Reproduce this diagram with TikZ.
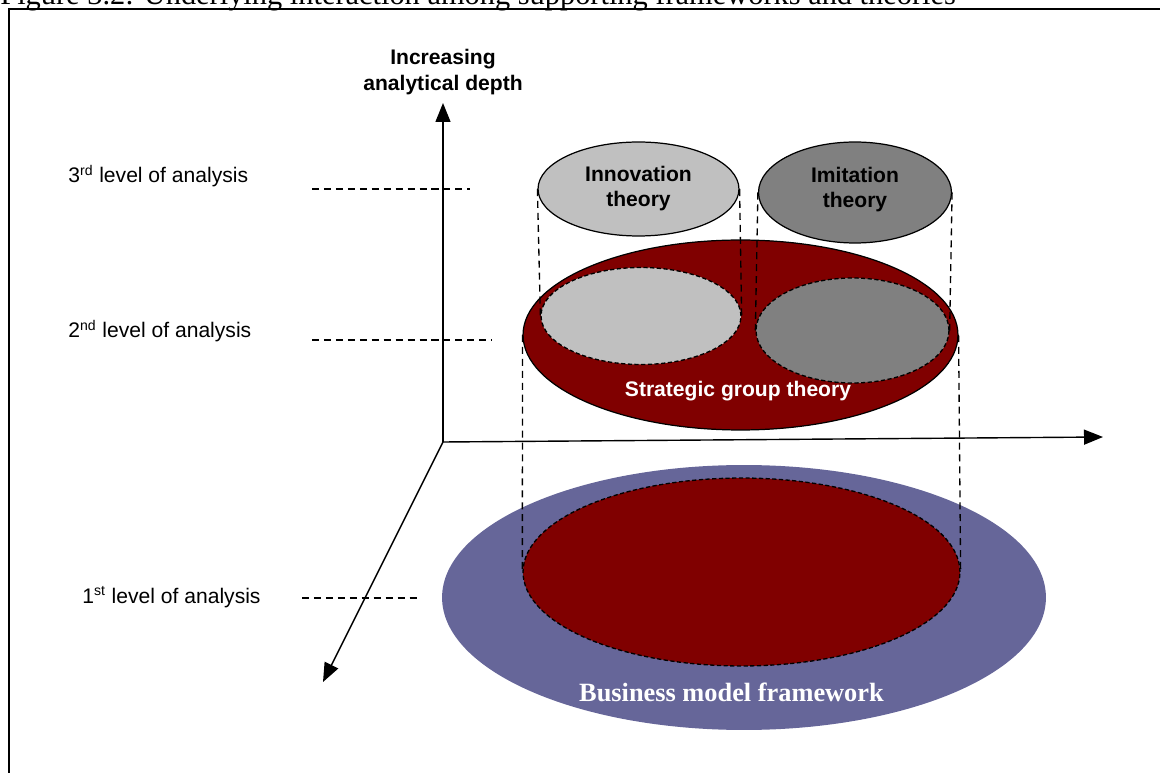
\documentclass[tikz,border=0pt]{standalone}
\usepackage{fontspec}
\setmainfont{Liberation Serif}
\setsansfont{Liberation Sans}
\usetikzlibrary{shapes.geometric,arrows.meta}

\definecolor{innovgray}{HTML}{C0C0C0}
\definecolor{imitgray}{HTML}{808080}
\definecolor{sgtred}{HTML}{800000}
\definecolor{bmfblue}{HTML}{666699}

\begin{document}
\begin{tikzpicture}[x=0.02cm,y=-0.02cm,
    axis/.style={line width=0.8pt,-{Triangle[length=0.38cm,width=0.3cm]}},
    lvltext/.style={anchor=base west,inner sep=0pt,font=\sffamily\fontsize{12}{14}\selectfont},
    lvlline/.style={line width=0.75pt,dash pattern=on 4pt off 2.8pt},
    drop/.style={line width=0.75pt,dash pattern=on 4pt off 2.8pt},
    theory/.style={ellipse,draw,line width=0.7pt,inner sep=0pt},
    thname/.style={align=center,inner sep=0pt,font=\sffamily\bfseries\fontsize{12}{14}\selectfont},
    inring/.style={ellipse,draw,inner sep=0pt,line width=0.75pt,dash pattern=on 2.4pt off 1.4pt}]
        \useasboundingbox (0,0) rectangle (1160,773);
        \draw [line width=0.8pt] (9,800) -- (9,9) -- (1170,9);
        \node (title) [anchor=base west, inner sep=0pt, font=\rmfamily\fontsize{17.3}{20}\selectfont] at (0,5)
              {Figure 3.2: Underlying interaction among supporting frameworks and theories};

        % first level: business model framework
        \node (bmf) [ellipse, fill=bmfblue, minimum width=12.08cm, minimum height=5.3cm] at (744,597.5) {};
        \node (bmfin) [inring, fill=sgtred, minimum width=8.74cm, minimum height=3.76cm] at (741.5,572) {};
        \node (bmfname) [text=white, font=\rmfamily\bfseries\fontsize{15}{18}\selectfont] at (731.5,692)
              {Business model framework};

        % second level: strategic groups
        \node (sgt) [theory, fill=sgtred, minimum width=8.7cm, minimum height=3.8cm] at (740.5,335) {};
        \draw [drop] (sgt.west) -- (bmfin.west);
        \draw [drop] (sgt.east) -- (bmfin.east);
        \node (innovin) [inring, fill=innovgray, minimum width=4cm, minimum height=1.94cm] at (641,316) {};
        \node (imitin) [inring, fill=imitgray, minimum width=3.86cm, minimum height=2.1cm] at (852.5,330.5) {};
        \node (sgtname) [thname, text=white] at (738,391) {Strategic group theory};

        % third level: innovation and imitation
        \node (innov) [theory, fill=innovgray, minimum width=4.02cm, minimum height=1.88cm] at (638.5,189) {};
        \node (imit) [theory, fill=imitgray, minimum width=3.86cm, minimum height=2.02cm] at (855,192.5) {};
        \node (innovname) [thname] at (638.5,188.5) {Innovation\\theory};
        \node (imitname) [thname] at (855,189.5) {Imitation\\theory};
        \draw [drop] (innov.west) -- (innovin.west);
        \draw [drop] (innov.east) -- (innovin.east);
        \draw [drop] (imit.west) -- (imitin.west);
        \draw [drop] (imit.east) -- (imitin.east);

        % axes
        \coordinate (origin) at (443,442);
        \coordinate (uptip) at (443,103);
        \coordinate (righttip) at (1103,437);
        \coordinate (downtip) at (323,682);
        \draw [axis] (origin) -- (uptip);
        \draw [axis] (origin) -- (righttip);
        \draw [axis] (origin) -- (downtip);
        \node (depth) [align=center, inner sep=0pt, font=\sffamily\bfseries\fontsize{12}{14.5}\selectfont]
              at (443,72) {Increasing\\analytical depth};

        % levels
        \node (lvlthree) [lvltext] at (68,183) {3\textsuperscript{rd} level of analysis};
        \node (lvltwo) [lvltext] at (68,338) {2\textsuperscript{nd} level of analysis};
        \node (lvlone) [lvltext] at (82,603) {1\textsuperscript{st} level of analysis};
        \draw [lvlline] (312,189) -- (470,189);
        \draw [lvlline] (312,340) -- (492,340);
        \draw [lvlline] (302,598) -- (419,598);
    \end{tikzpicture}
\end{document}
